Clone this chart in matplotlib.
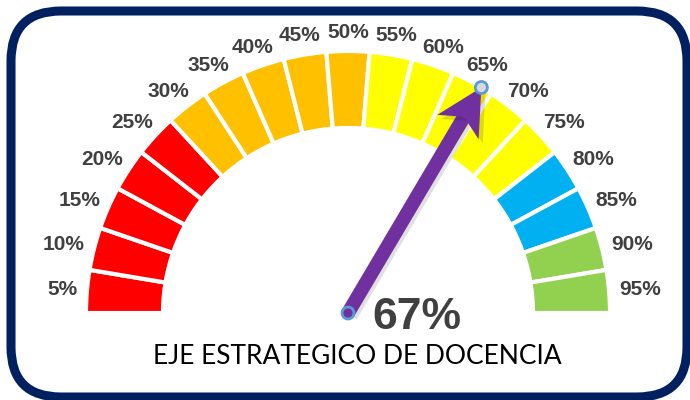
import matplotlib

matplotlib.use("Agg")
import matplotlib.pyplot as plt
import matplotlib.patheffects as pe
import numpy as np
from matplotlib.patches import Circle, FancyBboxPatch, Polygon

# gauge scale: 19 equal segments, label at the middle of each
labels = ["5%", "10%", "15%", "20%", "25%", "30%", "35%", "40%", "45%", "50%",
          "55%", "60%", "65%", "70%", "75%", "80%", "85%", "90%", "95%"]
segment_colors = (["#FF0000"] * 5 + ["#FFC000"] * 5 + ["#FFFF00"] * 5
                  + ["#00B0F0"] * 2 + ["#92D050"] * 2)
value = 67
value_text = "67%"
title = "EJE ESTRATEGICO DE DOCENCIA"

PURPLE = "#7030A0"
GREY = "#404040"

fig = plt.figure(figsize=(6.9, 4), dpi=100)
ax = fig.add_axes([0, 0, 1, 1])

# work in pixel units, y up
cx, cy = 348, 87
r_out, r_in = 262, 185
n = len(labels)

sizes = [1] * n + [n]  # last slice is the hidden lower half
wedges, _ = ax.pie(
    sizes,
    colors=segment_colors + ["none"],
    startangle=180,
    counterclock=False,
    radius=r_out,
    center=(cx, cy),
    wedgeprops=dict(width=r_out - r_in, edgecolor="white", linewidth=3),
)
wedges[-1].set_visible(False)

# labels just outside each segment
for i, lab in enumerate(labels):
    th = np.radians(180 - (i + 0.5) * 180 / n)
    w = 13.5 * len(lab)
    x = cx + 273 * np.cos(th) + w / 2 * np.cos(th)
    y = cy + 273 * np.sin(th) + 8 * np.sin(th)
    ax.text(x, y, lab, ha="center", va="center", fontsize=15,
            fontweight="bold", color=GREY, family="Liberation Sans")

# needle
th = np.radians(180 * (1 - value / 100))
u = np.array([np.cos(th), np.sin(th)])
nrm = np.array([-np.sin(th), np.cos(th)])
c = np.array([cx, cy])
tip = c + r_out * u
head_len, head_half, notch = 46, 24, 34
shaft_end = tip - notch * u
shadow = [pe.SimpleLineShadow(offset=(2, -2), alpha=0.12), pe.Normal()]
ax.plot([cx, shaft_end[0]], [cy, shaft_end[1]], color=PURPLE, lw=10,
        solid_capstyle="butt", path_effects=shadow, zorder=5)
head = Polygon([tip,
                tip - head_len * u + head_half * nrm,
                shaft_end,
                tip - head_len * u - head_half * nrm],
               closed=True, fc=PURPLE, ec="none", zorder=5,
               path_effects=[pe.SimplePatchShadow(offset=(3, -3), alpha=0.15), pe.Normal()])
ax.add_patch(head)
ax.add_patch(Circle(c, 6, fc=PURPLE, ec="#5B9BD5", lw=2, zorder=6))
ax.add_patch(Circle(tip, 6, fc="#D9D9D9", ec="#5B9BD5", lw=2, zorder=6))

ax.text(417, 82.5, value_text, ha="center", va="center", fontsize=32,
        fontweight="bold", color=GREY, family="Liberation Sans")
ax.text(357, 43, title, ha="center", va="center", fontsize=19,
        color="black", family="Lato")

# rounded frame
frame = FancyBboxPatch((11, 3), 676, 386, boxstyle="round,pad=0,rounding_size=50",
                       fc="none", ec="#002060", lw=6.5, clip_on=False)
ax.add_patch(frame)

ax.set_xlim(0, 690)
ax.set_ylim(0, 400)
ax.axis("off")

fig.savefig("out.png", dpi=100)
